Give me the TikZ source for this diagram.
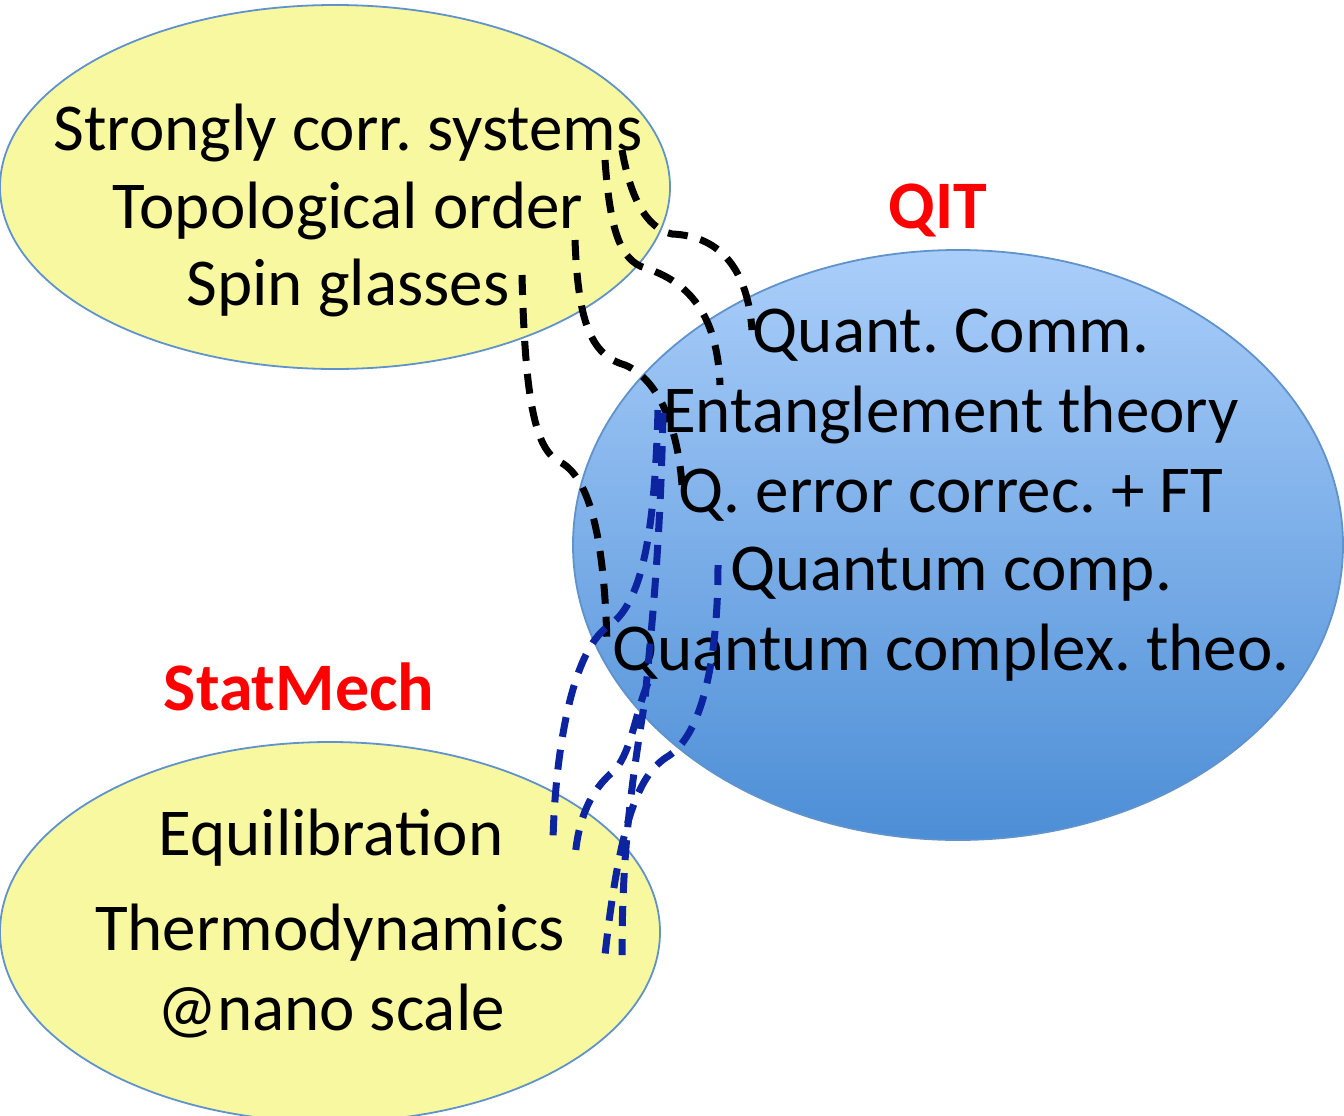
\documentclass[tikz,border=0pt]{standalone}
\usepackage{fontspec}
\setmainfont{Carlito}
\usetikzlibrary{shapes.geometric,positioning}
\definecolor{lemon}{RGB}{248,248,160}
\definecolor{rim}{RGB}{96,146,204}
\definecolor{skytop}{RGB}{170,206,250}
\definecolor{skybot}{RGB}{76,142,214}
\definecolor{ink}{RGB}{12,36,160}
\frenchspacing
\begin{document}
\begin{tikzpicture}[
  x=1pt,y=-1pt,
  blob/.style={ellipse,draw=rim,line width=1.8pt,inner sep=0pt},
  txt/.style={anchor=base,inner sep=0pt,font=\fontsize{67}{80}\selectfont},
  tag/.style={anchor=base,inner sep=0pt,text=red,font=\fontsize{68}{80}\selectfont\bfseries},
  link/.style={line width=7pt,dash pattern=on 20pt off 13pt},
  blk/.style={link,black},
  blu/.style={link,ink}
]
\useasboundingbox (0,0) rectangle (1344,1116);

\node[blob,fill=lemon,minimum width=670pt,minimum height=364pt] (phys) at (335,187) {};
\node[blob,top color=skytop,bottom color=skybot,minimum width=770pt,minimum height=590pt] (qi) at (958,545) {};
\node[blob,fill=lemon,minimum width=660pt,minimum height=380pt] (stat) at (330,932) {};

\node[txt] (scs) at (348,150) {Strongly corr. systems};
\node[txt] (topo) at (348,228) {Topological order};
\node[txt] (spin) at (348,305) {Spin glasses};

\node[tag] (qit) at (938,228) {QIT};
\node[txt] (comm) at (951,352) {Quant. Comm.};
\node[txt] (ent) at (951,432) {Entanglement theory};
\node[txt] (qec) at (951,512) {Q. error correc. + FT};
\node[txt] (qc) at (951,590) {Quantum comp.};
\node[txt] (qcx) at (951,670) {Quantum complex. theo.};

\node[tag] (sm) at (299,710) {StatMech};
\node[txt] (equ) at (331,855) {Equilibration};
\node[txt] (thermo) at (330,950) {Thermodynamics};
\node[txt] (nano) at (331,1030) {@nano scale};

\coordinate (k1) at (622,150);
\coordinate (k2) at (605,160);
\coordinate (k3) at (575,240);
\coordinate (k4) at (522,275);
\coordinate (q1) at (752,330);
\coordinate (q2) at (720,385);
\coordinate (q3) at (682,485);
\coordinate (q4) at (607,645);
\coordinate (e1) at (658,410);
\coordinate (e2) at (663,413);
\coordinate (e3) at (718,565);
\coordinate (e4) at (648,683);
\coordinate (s1) at (553,840);
\coordinate (s2) at (622,955);
\coordinate (s3) at (605,955);
\coordinate (s4) at (575,858);

\draw[blk] (k1) .. controls (630,195) and (645,228) .. (672,234) .. controls (722,236) and (748,272) .. (q1);
\draw[blk] (k2) .. controls (610,230) and (620,260) .. (645,268) .. controls (700,285) and (718,330) .. (q2);
\draw[blk] (k3) .. controls (578,320) and (590,355) .. (625,365) .. controls (660,380) and (678,430) .. (q3);
\draw[blk] (k4) .. controls (525,400) and (535,450) .. (560,462) .. controls (595,480) and (605,560) .. (q4);

\draw[blu] (e1) .. controls (655,520) and (645,600) .. (610,625) .. controls (570,650) and (555,760) .. (s1);
\draw[blu] (e2) .. controls (660,560) and (650,640) .. (645,700) .. controls (632,780) and (622,850) .. (s2);
\draw[blu] (e3) .. controls (718,650) and (705,730) .. (670,755) .. controls (645,770) and (622,800) .. (s3);
\draw[blu] (e4) .. controls (636,710) and (632,750) .. (615,770) .. controls (590,790) and (578,820) .. (s4);
\end{tikzpicture}
\end{document}
